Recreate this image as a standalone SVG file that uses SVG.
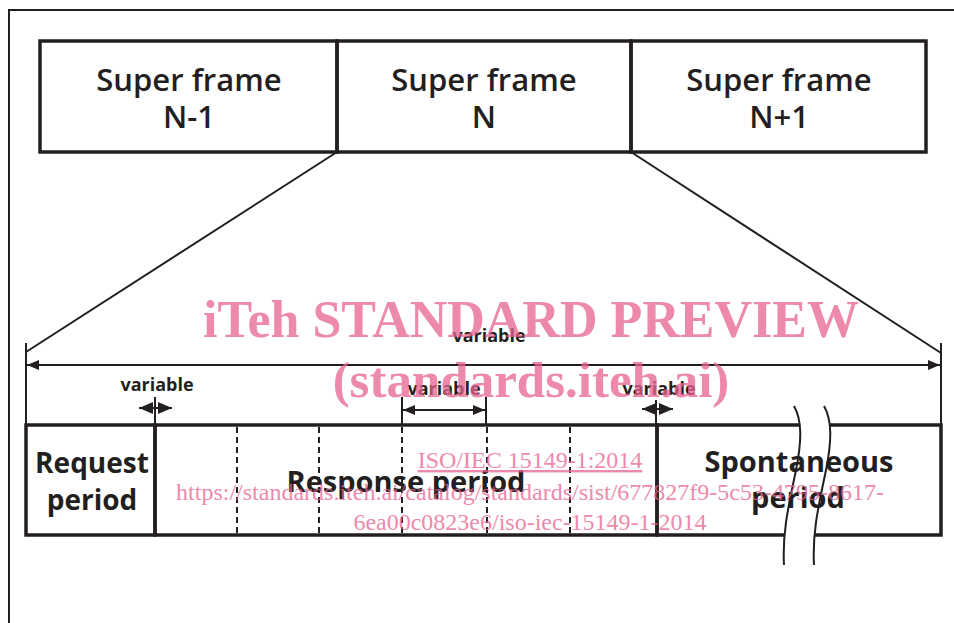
<svg xmlns="http://www.w3.org/2000/svg" width="954" height="623" viewBox="0 0 954 623">
<style>
.box{fill:none;stroke:#231f20;stroke-width:3.5}
.ln{fill:none;stroke:#231f20;stroke-width:2}
.dash{fill:none;stroke:#231f20;stroke-width:2;stroke-dasharray:6 4}
.t{font-family:"Open Sans","Liberation Sans",sans-serif;font-weight:700;fill:#231f20;text-anchor:middle}
.sf{font-size:31px;font-weight:600}
.pd{font-size:28px}
.v{font-size:18px}
.wm{font-family:"Liberation Serif","Times New Roman",serif;fill:#e8628f;opacity:0.75;text-anchor:middle}
</style>
<defs>
<marker id="ah" viewBox="0 0 12 10" refX="12" refY="5" markerWidth="12" markerHeight="10" markerUnits="userSpaceOnUse" orient="auto-start-reverse">
<path d="M0,0 L12,5 L0,10 Z" fill="#231f20"/>
</marker>
<marker id="ahs" viewBox="0 0 14 12" refX="14" refY="6" markerWidth="14" markerHeight="12" markerUnits="userSpaceOnUse" orient="auto-start-reverse">
<path d="M0,0 L14,6 L0,12 Z" fill="#231f20"/>
</marker>
</defs>
<rect width="954" height="623" fill="#fff"/>
<g id="frame">
<path class="ln" d="M9,623 V10 H954"/>
</g>
<g id="sf-n-1">
<rect class="box" x="40" y="41" width="297" height="111"/>
<text class="t sf" x="189" y="91">Super frame</text>
<text class="t sf" x="189" y="128">N-1</text>
</g>
<g id="sf-n">
<rect class="box" x="337" y="41" width="294" height="111"/>
<text class="t sf" x="484" y="91">Super frame</text>
<text class="t sf" x="484" y="128">N</text>
</g>
<g id="sf-n+1">
<rect class="box" x="631" y="41" width="295" height="111"/>
<text class="t sf" x="779" y="91">Super frame</text>
<text class="t sf" x="779" y="128">N+1</text>
</g>
<g id="request">
<rect class="box" x="26" y="425" width="129" height="110"/>
<text class="t pd" x="92" y="473">Request</text>
<text class="t pd" x="92" y="510">period</text>
</g>
<g id="response">
<rect class="box" x="155" y="425" width="502" height="110"/>
<path class="dash" d="M237,427 V533 M319,427 V533 M402,427 V533 M487,427 V533 M570,427 V533"/>
<text class="t pd" x="406" y="492" style="font-size:29px">Response period</text>
</g>
<g id="spontaneous">
<path class="box" d="M657,425 H941 V535 H657 Z"/>
<path d="M794,406 C802,420 802,440 796,470 C790,500 782,530 784,565 L814,565 C812,530 820,500 826,470 C832,440 832,420 824,406 Z" fill="#fff"/>
<path class="ln" d="M794,406 C802,420 802,440 796,470 C790,500 782,530 784,565"/>
<path class="ln" d="M824,406 C832,420 832,440 826,470 C820,500 812,530 814,565"/>
<text class="t pd" x="799" y="472" style="font-size:29px">Spontaneous</text>
<text class="t pd" x="798" y="508" style="font-size:29px">period</text>
</g>
<g id="connectors">
<path class="ln" d="M337,152 L26,352 M631,152 L941,353"/>
<path class="ln" d="M26,343 V425 M941,343 V425"/>
<line class="ln" x1="27" y1="365" x2="940" y2="365" marker-start="url(#ah)" marker-end="url(#ah)"/>
<path class="ln" d="M155,397 V425"/>
<line class="ln" x1="139" y1="408" x2="172" y2="408" marker-start="url(#ahs)" marker-end="url(#ahs)"/>
<path class="ln" d="M402,397 V425 M486,397 V425"/>
<line class="ln" x1="403" y1="410" x2="485" y2="410" marker-start="url(#ah)" marker-end="url(#ah)"/>
<path class="ln" d="M656,400 V425"/>
<line class="ln" x1="642" y1="409" x2="673" y2="409" marker-start="url(#ahs)" marker-end="url(#ahs)"/>
</g>
<g id="labels">
<text class="t v" x="489" y="342">variable</text>
<text class="t v" x="157" y="391">variable</text>
<text class="t v" x="444" y="395">variable</text>
<text class="t v" x="659" y="395">variable</text>
</g>
<g id="watermark">
<text class="wm" x="531" y="337" style="font-size:52px;font-weight:700">iTeh STANDARD PREVIEW</text>
<text class="wm" x="531" y="397" style="font-size:51px;font-weight:700">(standards.iteh.ai)</text>
<text class="wm" x="530" y="468" style="font-size:24px;text-decoration:underline">ISO/IEC 15149-1:2014</text>
<text class="wm" x="530" y="500" style="font-size:24px">https://standards.iteh.ai/catalog/standards/sist/677827f9-5c53-4795-8617-</text>
<text class="wm" x="530" y="530" style="font-size:24px">6ea00c0823e6/iso-iec-15149-1-2014</text>
</g>
</svg>
